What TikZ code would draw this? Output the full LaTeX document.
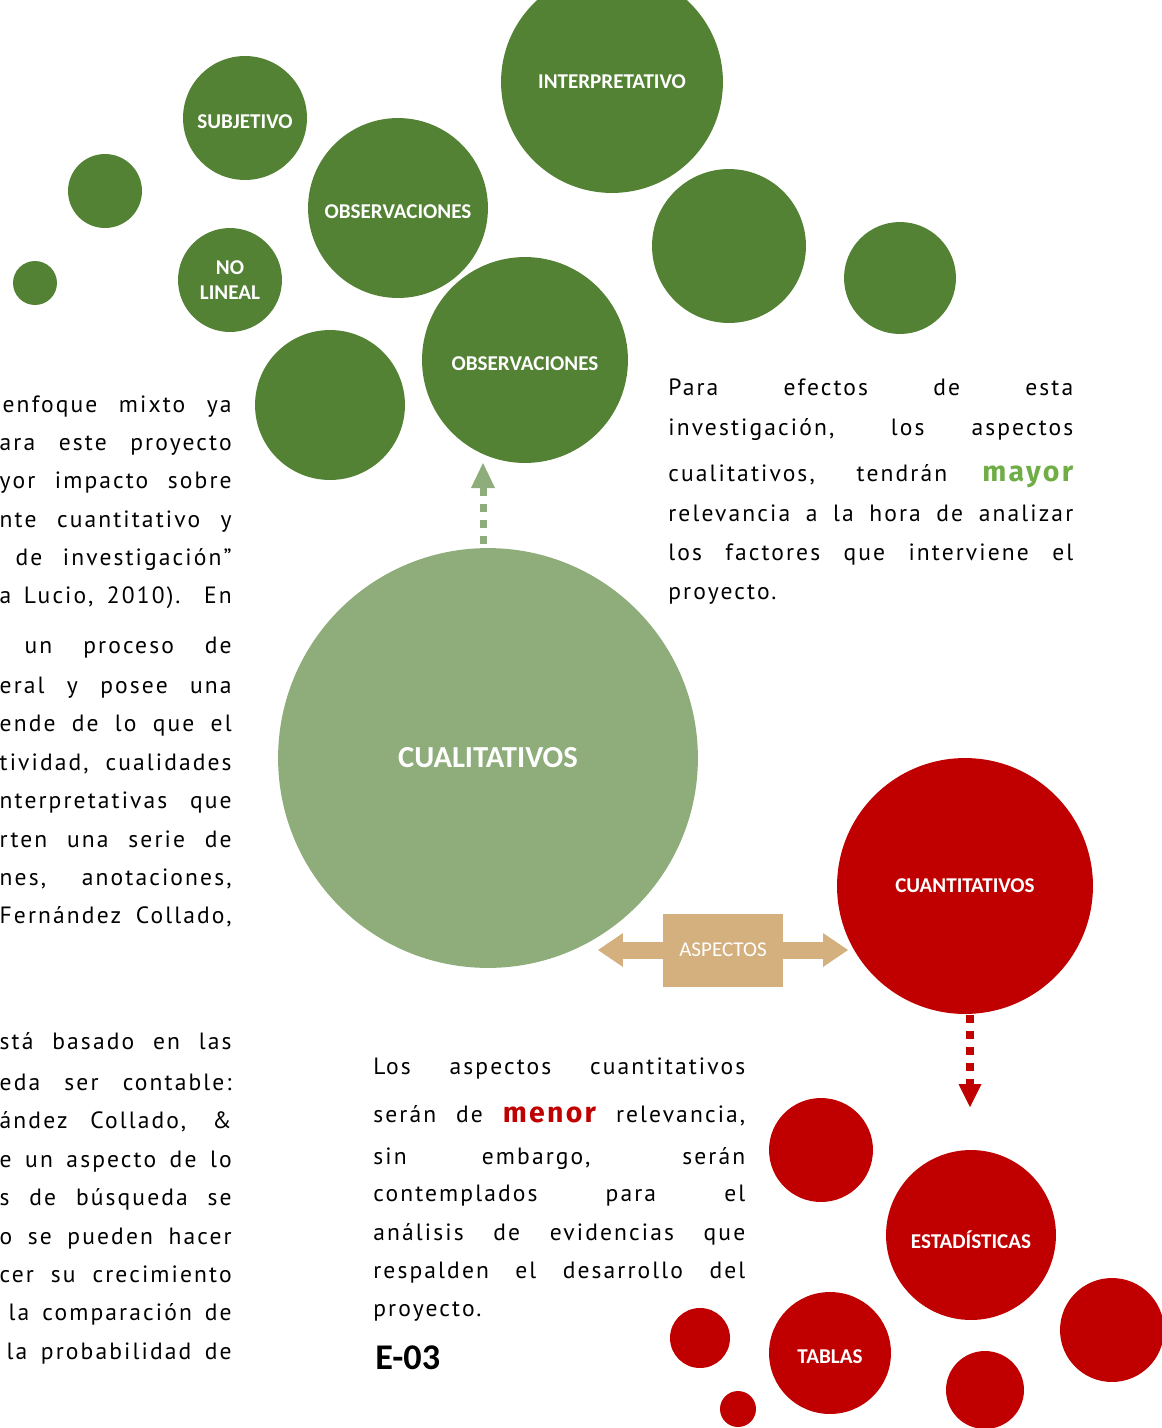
\documentclass[tikz,border=0pt]{standalone}
\usepackage{fontspec}
\setmainfont{PT Sans}
\newfontfamily\bodyfont[LetterSpace=9]{PT Sans}
\newfontfamily\labelfont{Carlito}
\newfontfamily\hifont[LetterSpace=8]{Fira Sans}
\usetikzlibrary{arrows.meta, positioning}

\definecolor{darkgreen}{HTML}{548235}
\definecolor{lightgreen}{HTML}{8EAD7A}
\definecolor{darkred}{HTML}{C00000}
\definecolor{aspecttan}{HTML}{D5B07F}
\definecolor{mayorgreen}{HTML}{70AD47}

\newcommand{\mayorword}{{\hifont\bfseries\fontsize{16.2}{18}\selectfont\color{mayorgreen}mayor}}
\newcommand{\menorword}{{\hifont\bfseries\fontsize{16.2}{18}\selectfont\color{darkred}menor}}

\tikzset{
  bubble/.style={circle, inner sep=0pt, minimum size=#1*0.04cm, text=white,
    align=center, font=\labelfont\bfseries\fontsize{12}{14.5}\selectfont},
  gbub/.style={bubble=#1, fill=darkgreen},
  rbub/.style={bubble=#1, fill=darkred},
  capsdown/.style={text height=12.3pt, text depth=0pt},
  aspbox/.style={rectangle, fill=aspecttan, text=white, minimum width=2.4cm,
    minimum height=1.46cm, font=\labelfont\fontsize{12}{14}\selectfont},
  asparrow/.style={aspecttan, line width=0.34cm,
    -{Triangle[width=0.68cm, length=0.5cm, line width=0pt]}},
  gdash/.style={lightgreen, line width=0.14cm, dash pattern=on 0.16cm off 0.16cm,
    -{Triangle[width=0.48cm, length=0.5cm, line width=0pt]}},
  rdash/.style={darkred, line width=0.155cm, dash pattern=on 0.16cm off 0.16cm,
    -{Triangle[width=0.46cm, length=0.46cm, line width=0pt]}},
  txt/.style={inner sep=0pt, yshift=-0.06cm, font=\bodyfont\fontsize{13.4}{15}\selectfont}
}

\begin{document}
\begin{tikzpicture}[x=0.02cm, y=-0.02cm]
  \useasboundingbox (0,0) rectangle (1161,1428);

  % green bubbles
  \node[gbub=22] (g1) at (35,283) {};
  \node[gbub=37] (g2) at (105,191) {};
  \node[gbub=62, capsdown] (subj) at (245,118) {SUBJETIVO};
  \node[gbub=52] (nolin) at (230,280) {NO\\LINEAL};
  \node[gbub=90, capsdown] (obs1) at (398,208) {OBSERVACIONES};
  \node[gbub=111] (interp) at (612,82) {INTERPRETATIVO};
  \node[gbub=75] (g3) at (330,405) {};
  \node[gbub=103, capsdown] (obs2) at (525,360) {OBSERVACIONES};
  \node[gbub=77] (g4) at (729,246) {};
  \node[gbub=56] (g5) at (900,278) {};
  \node[bubble=210, fill=lightgreen,
    font=\labelfont\bfseries\fontsize{17.4}{20}\selectfont] (cuali) at (488,758) {CUALITATIVOS};

  % red bubbles
  \node[rbub=128] (cuanti) at (965,886) {CUANTITATIVOS};
  \node[rbub=85, text height=15.5pt, text depth=0pt] (estad) at (971,1235) {ESTADÍSTICAS};
  \node[rbub=52] (r1) at (821,1150) {};
  \node[rbub=61, capsdown] (tablas) at (830,1353) {TABLAS};
  \node[rbub=30] (r2) at (700,1338) {};
  \node[rbub=18] (r3) at (738,1409) {};
  \node[rbub=39] (r4) at (985,1390) {};
  \node[rbub=52] (r5) at (1112,1330) {};

  % arrows
  \coordinate (gtail) at (483,544);
  \coordinate (gtip) at (483,463);
  \draw[gdash] (gtail) -- (gtip);
  \coordinate (rtail) at (970,1015);
  \coordinate (rtip) at (970,1107);
  \draw[rdash] (rtail) -- (rtip);

  \node[aspbox] (asp) at (723,950) {ASPECTOS};
  \coordinate (tipL) at (598,950);
  \coordinate (tipR) at (848,950);
  \draw[asparrow] (asp.west) -- (tipL);
  \draw[asparrow] (asp.east) -- (tipR);

  % left column (cut at the page edge)
  \foreach \y/\w/\t in {405/4.58/{enfoque mixto ya}, 443/4.64/{ara este proyecto},
      481/4.64/{yor impacto sobre}, 520/4.64/{nte cuantitativo y},
      558/4.32/{de investigación”}, 596/4.64/{a Lucio, 2010).  En},
      646/4.14/{un proceso de}, 686/4.64/{eral y posee una},
      724/4.64/{ende de lo que el}, 763/4.64/{tividad, cualidades},
      801/4.64/{nterpretativas que}, 840/4.64/{rten una serie de},
      878/4.64/{nes, anotaciones,}, 916/4.64/{Fernández Collado,},
      1042/4.64/{stá basado en las}, 1083/4.64/{eda ser contable:},
      1121/4.64/{ández Collado, \&}, 1160/4.64/{e un aspecto de lo},
      1198/4.64/{s de búsqueda se}, 1237/4.64/{o se pueden hacer},
      1275/4.64/{cer su crecimiento}, 1313/4.46/{la comparación de},
      1352/4.5/{la probabilidad de}}
    \node[txt, anchor=mid east] (left-\y) at (232,\y) {\makebox[\w cm][s]{\t}};

  % right column
  \foreach \y/\t in {388/{Para efectos de esta}, 428/{investigación, los aspectos},
      474/{cualitativos, tendrán \mayorword}, 514/{relevancia a la hora de analizar},
      553/{los factores que interviene el}}
    \node[txt, anchor=mid west] (right-\y) at (668,\y) {\makebox[8.1cm][s]{\t}};
  \node[txt, anchor=mid west] (right-592) at (668,592) {proyecto.};

  % bottom column
  \foreach \y/\t in {1067/{Los aspectos cuantitativos}, 1115/{serán de \menorword\ relevancia,},
      1157/{sin embargo, serán}, 1194/{contemplados para el},
      1233/{análisis de evidencias que}, 1271/{respalden el desarrollo del}}
    \node[txt, anchor=mid west] (low-\y) at (373,\y) {\makebox[7.44cm][s]{\t}};
  \node[txt, anchor=mid west] (low-1309) at (373,1309) {proyecto.};

  \node[anchor=west, inner sep=0pt, font=\labelfont\bfseries\fontsize{20.6}{22}\selectfont]
    (code) at (375,1358) {E-03};
\end{tikzpicture}
\end{document}
